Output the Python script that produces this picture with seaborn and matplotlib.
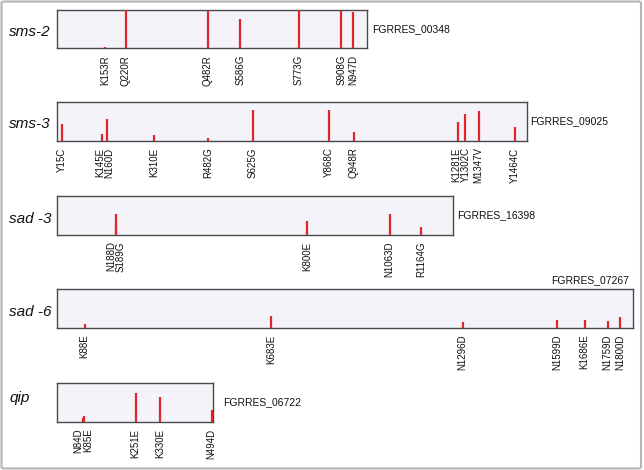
import matplotlib
matplotlib.use("Agg")
import matplotlib.pyplot as plt
from matplotlib.patches import FancyBboxPatch
import seaborn as sns
import pandas as pd

# Genes, ids and protein lengths (aa)
genes = ["sms-2", "sms-3", "sad -3", "sad -6", "qip"]
gene_ids = ["FGRRES_00348", "FGRRES_09025", "FGRRES_16398", "FGRRES_07267", "FGRRES_06722"]
protein_lengths = [990, 1500, 1265, 1840, 498]

# Mutations per gene and relative bar heights
sms2_mut = ["K153R", "Q220R", "Q482R", "S586G", "S773G", "S908G", "N947D"]
sms2_val = [0.03, 0.98, 0.95, 0.75, 0.98, 0.95, 0.93]
sms3_mut = ["Y15C", "K145E", "N160D", "K310E", "R482G", "S625G", "Y868C", "Q948R",
            "K1281E", "Y1302C", "M1347V", "Y1464C"]
sms3_val = [0.43, 0.17, 0.57, 0.15, 0.06, 0.80, 0.78, 0.21, 0.48, 0.69, 0.77, 0.35]
sad3_mut = ["N188D", "S189G", "K800E", "N1063D", "R1164G"]
sad3_val = [0.53, 0.24, 0.34, 0.53, 0.20]
sad6_mut = ["K88E", "K683E", "N1296D", "N1599D", "K1686E", "N1759D", "N1800D"]
sad6_val = [0.09, 0.31, 0.14, 0.20, 0.20, 0.17, 0.27]
qip_mut = ["N84D", "K85E", "K251E", "K330E", "N494D"]
qip_val = [0.10, 0.13, 0.73, 0.63, 0.31]

mutations = [sms2_mut, sms3_mut, sad3_mut, sad6_mut, qip_mut]
values = [sms2_val, sms3_val, sad3_val, sad6_val, qip_val]

rows = []
for g, muts, vals in zip(genes, mutations, values):
    for m, v in zip(muts, vals):
        rows.append({"gene": g, "mutation": m, "pos": int(m[1:-1]), "value": v})
df = pd.DataFrame(rows)

sns.set_theme(style="white")
plt.rcParams["font.family"] = ["Liberation Sans", "DejaVu Sans"]

W, H = 644, 470
fig = plt.figure(figsize=(W / 100, H / 100), dpi=100)

# frame around the figure
fig.patches.append(FancyBboxPatch((1.5 / W, 1.5 / H), 639.5 / W, 467 / H,
                                  boxstyle="round,pad=0,rounding_size=0.004",
                                  transform=fig.transFigure, fill=False,
                                  edgecolor="#b5b5b5", linewidth=1.5))

px_per_aa = 0.313
left = 57
box_tops = [9.5, 102, 196, 289, 383]
box_h = 38.5
name_dy = [7, 6.5, 7.5, 7.5, 0]
id_dx = [5, 4, 4, 5, 10]
bar_color = "#e0252c"


def spread(xs, gap):
    xs = list(xs)
    for _ in range(100):
        moved = False
        for i in range(len(xs) - 1):
            d = xs[i + 1] - xs[i]
            if d < gap - 1e-6:
                s = (gap - d) / 2
                xs[i] -= s
                xs[i + 1] += s
                moved = True
        if not moved:
            break
    return xs


for i, g in enumerate(genes):
    L = protein_lengths[i]
    wpx = L * px_per_aa
    top = box_tops[i]
    ax = fig.add_axes([left / W, 1 - (top + box_h) / H, wpx / W, box_h / H])
    ax.set_facecolor("#f3f3f9")
    d = df[df["gene"] == g]
    ax.vlines(d["pos"], 0, d["value"], color=bar_color, linewidth=1.6, zorder=3)
    ax.set_xlim(0, L)
    ax.set_ylim(0, 1)
    ax.set_xticks([])
    ax.set_yticks([])
    for sp in ax.spines.values():
        sp.set_color("#4a4a4a")
        sp.set_linewidth(1.0)

    # mutation labels below the box
    lab_x = spread(d["pos"].tolist(), 9.8 / px_per_aa)
    for lx, m in zip(lab_x, d["mutation"]):
        ax.annotate(m, xy=(lx, 0), xycoords=("data", "axes fraction"),
                    xytext=(0, -5), textcoords="offset points",
                    rotation=90, ha="center", va="top", fontsize=7, color="#111111")

    # gene name
    fig.text(9 / W, 1 - (top + box_h / 2 + name_dy[i]) / H, g, fontsize=11,
             style="italic", ha="left", va="baseline", color="#111111")

    # gene id
    if i == 3:
        fig.text((left + wpx - 4) / W, 1 - (top - 6) / H, gene_ids[i], fontsize=7.5,
                 ha="right", va="baseline", color="#111111")
    else:
        fig.text((left + wpx + id_dx[i]) / W, 1 - (top + box_h / 2) / H, gene_ids[i],
                 fontsize=7.5, ha="left", va="center", color="#111111")

fig.savefig("out.png", dpi=100)
